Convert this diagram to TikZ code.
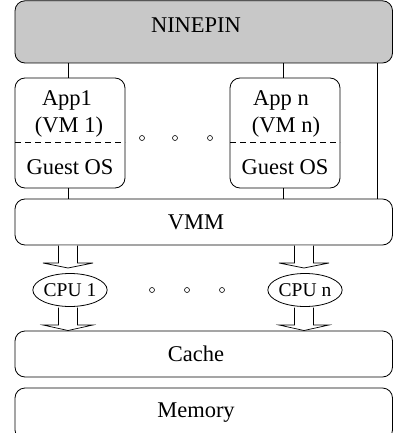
\documentclass[tikz,border=0pt]{standalone}
\usepackage{fontspec}
\setmainfont{Liberation Serif}
\usetikzlibrary{shapes.geometric}
\begin{document}
\begin{tikzpicture}[x=1pt,y=-1pt,
  every node/.style={font=\fontsize{22.5}{26}\selectfont},
  layer/.style={draw,line width=0.8pt,rounded corners=10pt},
  vmbox/.style={draw,line width=0.8pt,rounded corners=10pt},
  cpu/.style={draw,ellipse,line width=0.8pt,inner sep=0pt,minimum width=68pt,minimum height=33pt,font=\fontsize{19.5}{22}\selectfont},
  blk/.style={draw,line width=0.7pt,fill=white},
  dot/.style={draw,circle,line width=0.6pt,inner sep=0pt,minimum size=5pt},
  link/.style={line width=0.8pt}]
\clip (0,0) rectangle (393,433);
\useasboundingbox (0,0) rectangle (393,433);
% NINEPIN
\draw[layer,fill={rgb,255:red,200;green,200;blue,200}] (15,0.8) rectangle (392.5,63);
\node (nine) at (196,25) {NINEPIN};
% VM boxes
\draw[vmbox] (15,78) rectangle (125,188);
\draw[vmbox] (230,78) rectangle (340,188);
\draw[line width=0.8pt,dash pattern=on 6pt off 4pt] (15,142) -- (125,142);
\draw[line width=0.8pt,dash pattern=on 6pt off 4pt] (230,142) -- (340,142);
\node (app1) at (67,100) {App1};
\node (vm1) at (69,127) {(VM 1)};
\node (g1) at (70,167) {Guest OS};
\node (appn) at (281,100) {App n};
\node (vmn) at (286,127) {(VM n)};
\node (gn) at (285,167) {Guest OS};
\node[dot] (d1) at (142,138) {};
\node[dot] (d2) at (175,138) {};
\node[dot] (d3) at (210,138) {};
% VMM
\draw[layer] (15,199) rectangle (392.5,245);
\node (vmm) at (196,222) {VMM};
% links
\draw[link] (68,63) -- (68,78);
\draw[link] (283,63) -- (283,78);
\draw[link] (68,188) -- (68,199);
\draw[link] (283,188) -- (283,199);
\draw[link] (377,63) -- (377,199);
% CPUs
\node[cpu] (cpu1) at (70,290) {CPU 1};
\node[cpu] (cpun) at (305,290) {CPU n};
\node[dot] (e1) at (152,290) {};
\node[dot] (e2) at (187,290) {};
\node[dot] (e3) at (222,290) {};
% block arrows
\foreach \cx in {68,304}{
  \draw[blk] (\cx-9.5,245.5) -- (\cx-9.5,263) -- (\cx-25,263) -- (\cx,268) -- (\cx+25,263) -- (\cx+9.5,263) -- (\cx+9.5,245.5);
  \draw[blk] (\cx-9.5,307.5) -- (\cx-9.5,325) -- (\cx-25,325) -- (\cx,330.5) -- (\cx+25,325) -- (\cx+9.5,325) -- (\cx+9.5,307.5);
}
% Cache, Memory
\draw[layer] (15,331) rectangle (392.5,377);
\node (cache) at (196,354) {Cache};
\draw[layer] (15,388) rectangle (392.5,440);
\node (mem) at (196,413) {Memory};
\end{tikzpicture}
\end{document}
